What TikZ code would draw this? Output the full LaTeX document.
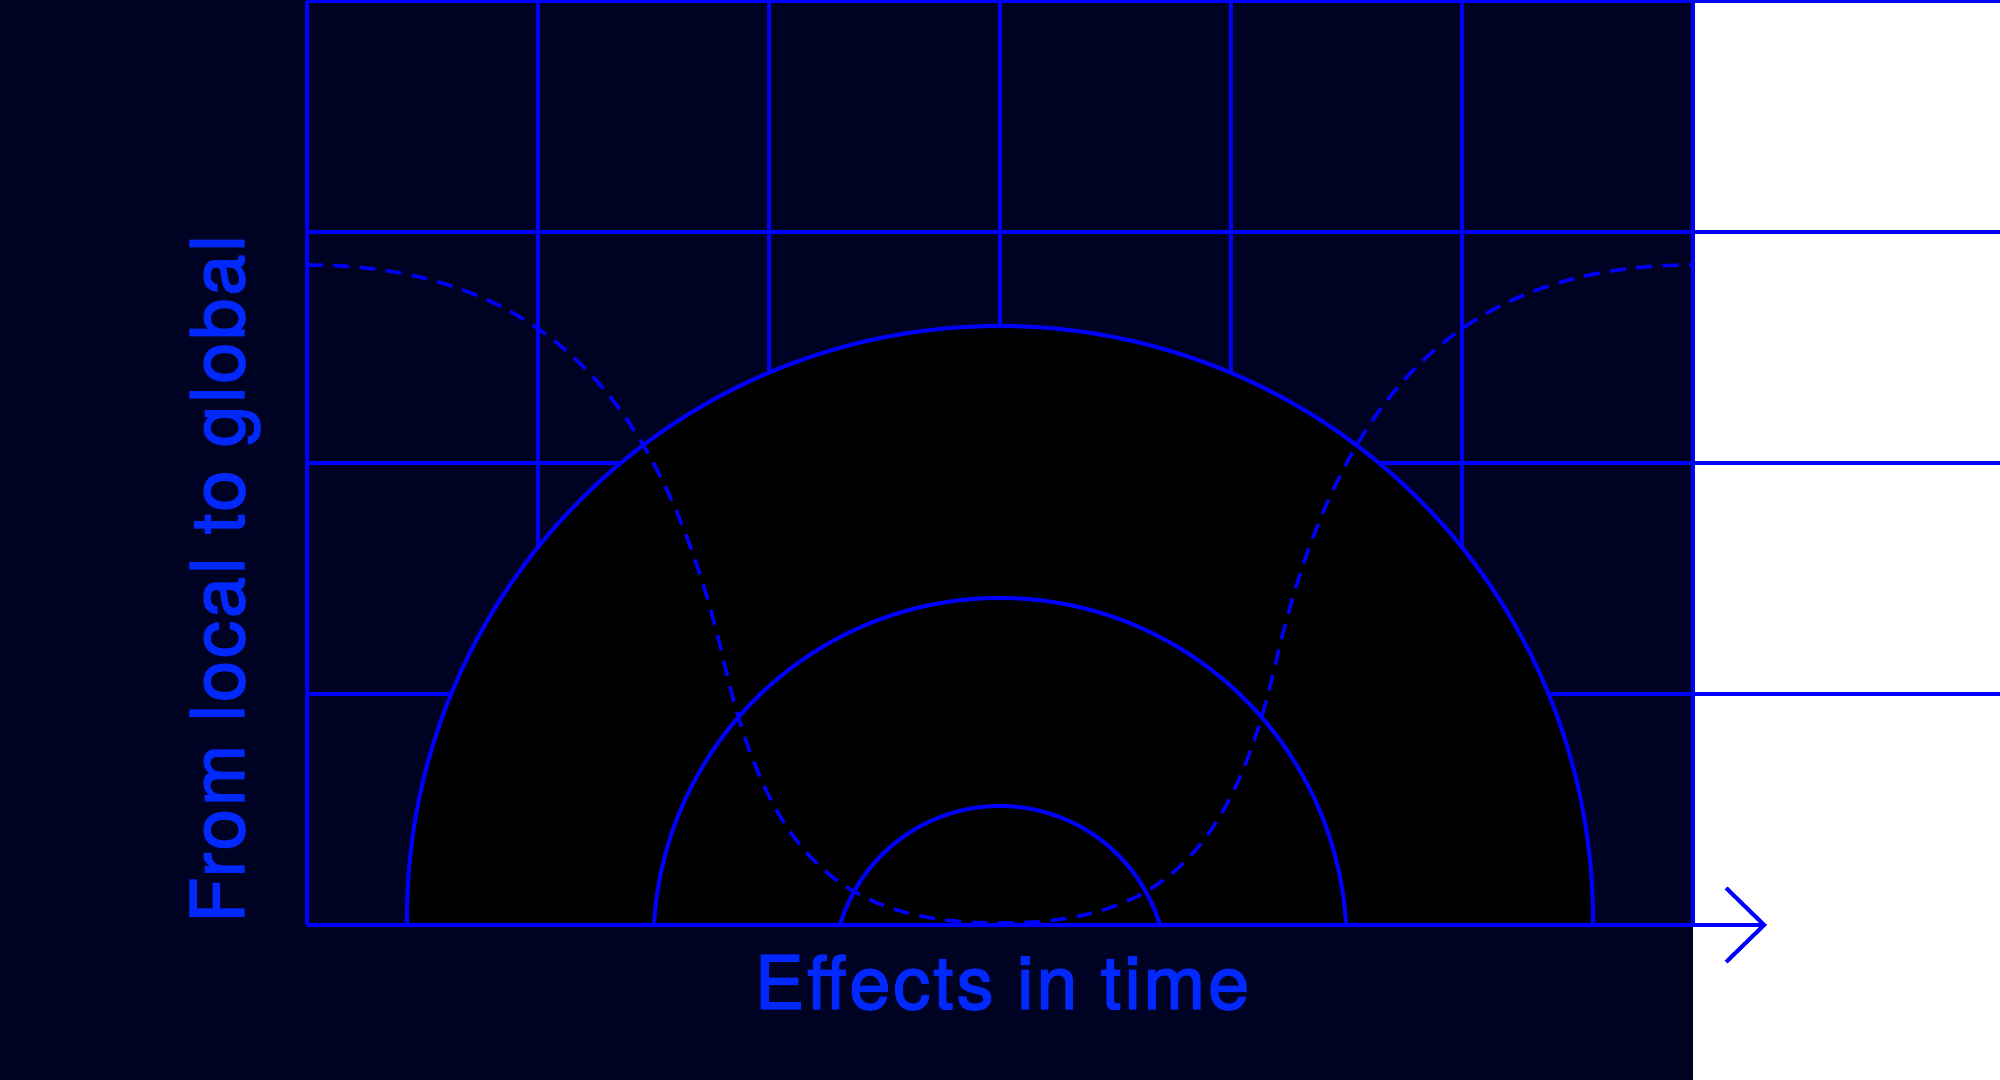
\documentclass[tikz,border=0pt]{standalone}
\usepackage{fontspec}
\setmainfont{TeX Gyre Heros}
\newfontfamily\labelfont[LetterSpace=4, FakeBold=2]{TeX Gyre Heros}
\usetikzlibrary{arrows.meta}
\definecolor{navy}{RGB}{0,2,35}
\definecolor{gridblue}{RGB}{0,0,255}
\definecolor{labelblue}{RGB}{0,40,255}
\tikzset{
  gridline/.style={gridblue, line width=1.15pt},
  ring/.style={gridblue, line width=1.15pt},
  trend/.style={gridblue, line width=1pt, dash pattern=on 4.5pt off 3pt},
  axislabel/.style={labelblue, inner sep=0pt, font=\labelfont\fontsize{21}{21}\selectfont},
}

\begin{document}
\begin{tikzpicture}[scale=1.0, >={Straight Barb[length=3.8mm,width=7.4mm]}]
            \useasboundingbox (0,0) rectangle (20,10.8);
            \fill[white] (0,0) rectangle (20,10.8);
            \fill[navy] (0,0) rectangle (16.93,10.8);

            % grid
            \foreach \x in {3.07,5.38,7.69,10.00,12.31,14.62,16.93}
                \draw[gridline] (\x,1.55) -- (\x,10.79);
            \foreach \y in {3.86,6.17,8.48,10.79}
                \draw[gridline] (3.07,\y) -- (20,\y);

            % rings
            \draw[ring, fill=black] (4.07,1.55) arc[start angle=180.58, end angle=-0.58, radius=5.93] -- cycle;
            \draw[ring] (6.54,1.55) arc[start angle=176.76, end angle=3.24, radius=3.466];
            \draw[ring] (8.40,1.55) arc[start angle=163.3, end angle=16.7, radius=1.67];

            % dashed curve
            \draw[trend] (3.07,8.15) .. controls (5.57,8.15) and (6.675,6.64) .. (7.25,4.14)
                .. controls (7.71,2.14) and (8.50,1.57) .. (10.00,1.57)
                .. controls (11.50,1.57) and (12.29,2.14) .. (12.75,4.14)
                .. controls (13.325,6.64) and (14.43,8.15) .. (16.93,8.15);

            % axis
            \draw[gridline, ->] (3.07,1.55) -- (17.67,1.55);

            \node[axislabel, anchor=base] (timelabel) at (10.02,0.71) {Effects in time};
            \node[axislabel, anchor=base, rotate=90] (scalelabel) at (2.44,5.01) {From local to global};
        \end{tikzpicture}
\end{document}
